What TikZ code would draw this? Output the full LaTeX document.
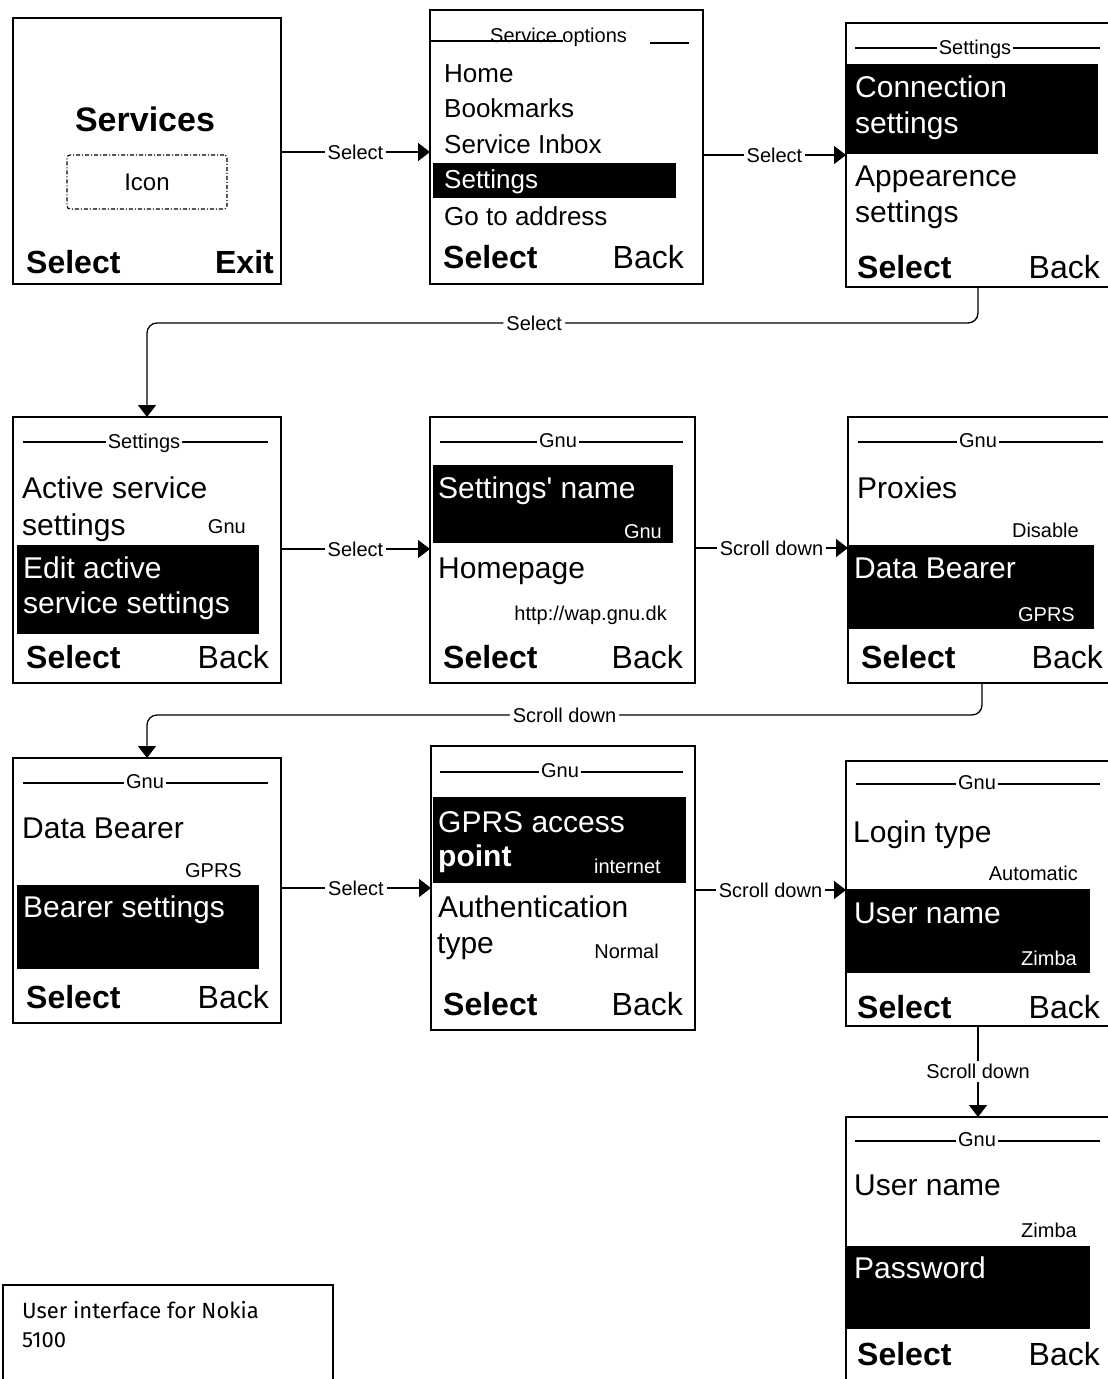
\documentclass[tikz,border=0pt]{standalone}
\usepackage{fontspec}
\setmainfont{Liberation Sans}
\newfontfamily\capfont{Fira Sans}
\usetikzlibrary{arrows.meta}
\begin{document}
\begin{tikzpicture}[x=1pt,y=-1pt,
  screen/.style={draw, rectangle, line width=1.4pt, inner sep=0pt, outer sep=0pt},
  item/.style={font=\fontsize{30}{36}\selectfont, inner sep=0pt, anchor=base west},
  itemsm/.style={font=\fontsize{26}{31}\selectfont, inner sep=0pt, anchor=base west},
  val/.style={font=\fontsize{20}{24}\selectfont, inner sep=0pt, anchor=base east},
  hdrtxt/.style={font=\fontsize{20}{24}\selectfont, inner xsep=2pt, inner ysep=0pt, anchor=base},
  softl/.style={font=\bfseries\fontsize{32}{38}\selectfont, inner sep=0pt, anchor=base west},
  softr/.style={font=\fontsize{32}{38}\selectfont, inner sep=0pt, anchor=base east},
  inv/.style={text=white},
  hline/.style={line width=1.2pt},
  conn/.style={line width=1.3pt, -{Triangle[length=12pt,width=18pt]}},
  lbl/.style={font=\fontsize{20}{24}\selectfont, fill=white, inner xsep=3pt, inner ysep=3pt},
  captxt/.style={font=\capfont\fontsize{22}{26}\selectfont, inner sep=0pt, anchor=base west}
]
\useasboundingbox (0,0) rectangle (1108,1379);
\clip (0,0) rectangle (1108,1379);

% ---------- screens ----------
\node[screen, minimum width=268pt, minimum height=266pt] (s1) at (147,151) {};
\node[screen, minimum width=273pt, minimum height=274pt] (s2) at (566.5,147) {};
\node[screen, minimum width=264pt, minimum height=264pt] (s3) at (978,155) {};
\node[screen, minimum width=268pt, minimum height=266pt] (s4) at (147,550) {};
\node[screen, minimum width=265pt, minimum height=266pt] (s5) at (562.5,550) {};
\node[screen, minimum width=262pt, minimum height=266pt] (s6) at (979,550) {};
\node[screen, minimum width=268pt, minimum height=265pt] (s7) at (147,890.5) {};
\node[screen, minimum width=264pt, minimum height=284pt] (s8) at (563,888) {};
\node[screen, minimum width=264pt, minimum height=265pt] (s9) at (978,893.5) {};
\node[screen, minimum width=264pt, minimum height=283pt] (s10) at (978,1258.5) {};
\node[screen, minimum width=330pt, minimum height=115pt] (cap) at (168,1342.5) {};

% ---------- screen 1 ----------
\node[font=\bfseries\fontsize{34}{40}\selectfont, inner sep=0pt, anchor=base] (t1) at (145,131) {Services};
\node[draw, line width=1.1pt, rounded corners=3pt, dash pattern=on 4pt off 2pt on 1pt off 2pt,
      minimum width=160pt, minimum height=54pt, font=\fontsize{24}{28}\selectfont] (icon) at (147,182) {Icon};
\node[softl] (s1l) at (26,273) {Select};
\node[softl, anchor=base east] (s1r) at (274,273) {Exit};

% ---------- screen 2 ----------
\draw[hline] (431,41) -- (563,41);
\node[font=\fontsize{20}{24}\selectfont, inner sep=0pt, anchor=base west] (h2) at (490,42) {Service options};
\draw[hline] (650,43) -- (689,43);
\node[itemsm] (a1) at (444,82) {Home};
\node[itemsm] (a2) at (444,117) {Bookmarks};
\node[itemsm] (a3) at (444,153) {Service Inbox};
\fill (433,163) rectangle (676,198);
\node[itemsm, inv] (a4) at (444,188) {Settings};
\node[itemsm] (a5) at (444,225) {Go to address};
\node[softl] (s2l) at (443,268) {Select};
\node[softr] (s2r) at (684,268) {Back};

% ---------- screen 3 ----------
\node[hdrtxt] (h3) at (975,54) {Settings};
\draw[hline] (855,48) -- (h3.west |- 0,48);
\draw[hline] (h3.east |- 0,48) -- (1100,48);
\fill (847,64) rectangle (1098,154);
\node[item, inv] (b1) at (855,97) {Connection};
\node[item, inv] (b2) at (855,133) {settings};
\node[item] (b3) at (855,186) {Appearence};
\node[item] (b4) at (855,222) {settings};
\node[softl] (s3l) at (857,278) {Select};
\node[softr] (s3r) at (1100,278) {Back};

% ---------- screen 4 ----------
\node[hdrtxt] (h4) at (144,448) {Settings};
\draw[hline] (23,442) -- (h4.west |- 0,442);
\draw[hline] (h4.east |- 0,442) -- (268,442);
\node[item] (c1) at (22,498) {Active service};
\node[item] (c2) at (22,535) {settings};
\node[val] (c3) at (246,533) {Gnu};
\fill (17,545) rectangle (259,634);
\node[item, inv] (c4) at (23,578) {Edit active};
\node[item, inv] (c5) at (23,613) {service settings};
\node[softl] (s4l) at (26,668) {Select};
\node[softr] (s4r) at (269,668) {Back};

% ---------- screen 5 ----------
\node[hdrtxt] (h5) at (558,447) {Gnu};
\draw[hline] (440,442) -- (h5.west |- 0,442);
\draw[hline] (h5.east |- 0,442) -- (683,442);
\fill (433,465) rectangle (673,543);
\node[item, inv] (d1) at (438,498) {Settings\textquotesingle{} name};
\node[val, inv] (d2) at (662,538) {Gnu};
\node[item] (d3) at (438,578) {Homepage};
\node[val] (d4) at (667,620) {http://wap.gnu.dk};
\node[softl] (s5l) at (443,668) {Select};
\node[softr] (s5r) at (683,668) {Back};

% ---------- screen 6 ----------
\node[hdrtxt] (h6) at (978,447) {Gnu};
\draw[hline] (858,442) -- (h6.west |- 0,442);
\draw[hline] (h6.east |- 0,442) -- (1103,442);
\node[item] (e1) at (857,498) {Proxies};
\node[val] (e2) at (1079,537) {Disable};
\fill (848,545) rectangle (1094,629);
\node[item, inv] (e3) at (854,578) {Data Bearer};
\node[val, inv] (e4) at (1075,621) {GPRS};
\node[softl] (s6l) at (861,668) {Select};
\node[softr] (s6r) at (1103,668) {Back};

% ---------- screen 7 ----------
\node[hdrtxt] (h7) at (145,788) {Gnu};
\draw[hline] (23,783) -- (h7.west |- 0,783);
\draw[hline] (h7.east |- 0,783) -- (268,783);
\node[item] (f1) at (22,838) {Data Bearer};
\node[val] (f2) at (242,877) {GPRS};
\fill (17,885) rectangle (259,969);
\node[item, inv] (f3) at (23,917) {Bearer settings};
\node[softl] (s7l) at (26,1008) {Select};
\node[softr] (s7r) at (269,1008) {Back};

% ---------- screen 8 ----------
\node[hdrtxt] (h8) at (560,777) {Gnu};
\draw[hline] (440,772) -- (h8.west |- 0,772);
\draw[hline] (h8.east |- 0,772) -- (683,772);
\fill (433,797) rectangle (686,883);
\node[item, inv] (g1) at (438,832) {GPRS access};
\node[item, inv, font=\bfseries\fontsize{30}{36}\selectfont] (g2) at (438,866) {point};
\node[val, inv] (g3) at (661,873) {internet};
\node[item] (g4) at (438,917) {Authentication};
\node[item] (g5) at (437,953) {type};
\node[val] (g6) at (659,958) {Normal};
\node[softl] (s8l) at (443,1015) {Select};
\node[softr] (s8r) at (683,1015) {Back};

% ---------- screen 9 ----------
\node[hdrtxt] (h9) at (977,789) {Gnu};
\draw[hline] (856,784) -- (h9.west |- 0,784);
\draw[hline] (h9.east |- 0,784) -- (1100,784);
\node[item] (k1) at (853,842) {Login type};
\node[val] (k2) at (1078,880) {Automatic};
\fill (846,889) rectangle (1090,973);
\node[item, inv] (k3) at (854,923) {User name};
\node[val, inv] (k4) at (1077,965) {Zimba};
\node[softl] (s9l) at (857,1018) {Select};
\node[softr] (s9r) at (1100,1018) {Back};

% ---------- screen 10 ----------
\node[hdrtxt] (h10) at (977,1146) {Gnu};
\draw[hline] (855,1141) -- (h10.west |- 0,1141);
\draw[hline] (h10.east |- 0,1141) -- (1100,1141);
\node[item] (m1) at (854,1195) {User name};
\node[val] (m2) at (1077,1237) {Zimba};
\fill (846,1246) rectangle (1090,1329);
\node[item, inv] (m3) at (854,1278) {Password};
\node[softl] (s10l) at (857,1365) {Select};
\node[softr] (s10r) at (1100,1365) {Back};

% ---------- caption ----------
\node[captxt] (cap1) at (22,1318) {User interface for Nokia};
\node[captxt] (cap2) at (22,1347) {5100};

% ---------- connectors ----------
\draw[conn] (s1.east |- 0,152) -- node[lbl]{Select} (s2.west |- 0,152);
\draw[conn] (s2.east |- 0,155) -- node[lbl]{Select} (s3.west |- 0,155);
\draw[conn, rounded corners=10pt] (s3.south -| 978,0) -- (978,323) -- node[lbl, pos=0.534]{Select} (147,323) -- (s4.north);
\draw[conn] (s4.east |- 0,549) -- node[lbl]{Select} (s5.west |- 0,549);
\draw[conn] (s5.east |- 0,548) -- node[lbl]{Scroll down} (s6.west |- 0,548);
\draw[conn, rounded corners=10pt] (s6.south -| 982,0) -- (982,715) -- node[lbl, midway]{Scroll down} (147,715) -- (s7.north);
\draw[conn] (s7.east |- 0,888) -- node[lbl]{Select} (s8.west |- 0,888);
\draw[conn] (s8.east |- 0,890) -- node[lbl]{Scroll down} (s9.west |- 0,890);
\draw[conn] (s9.south -| 978,0) -- node[lbl]{Scroll down} (s10.north -| 978,0);
\end{tikzpicture}
\end{document}
